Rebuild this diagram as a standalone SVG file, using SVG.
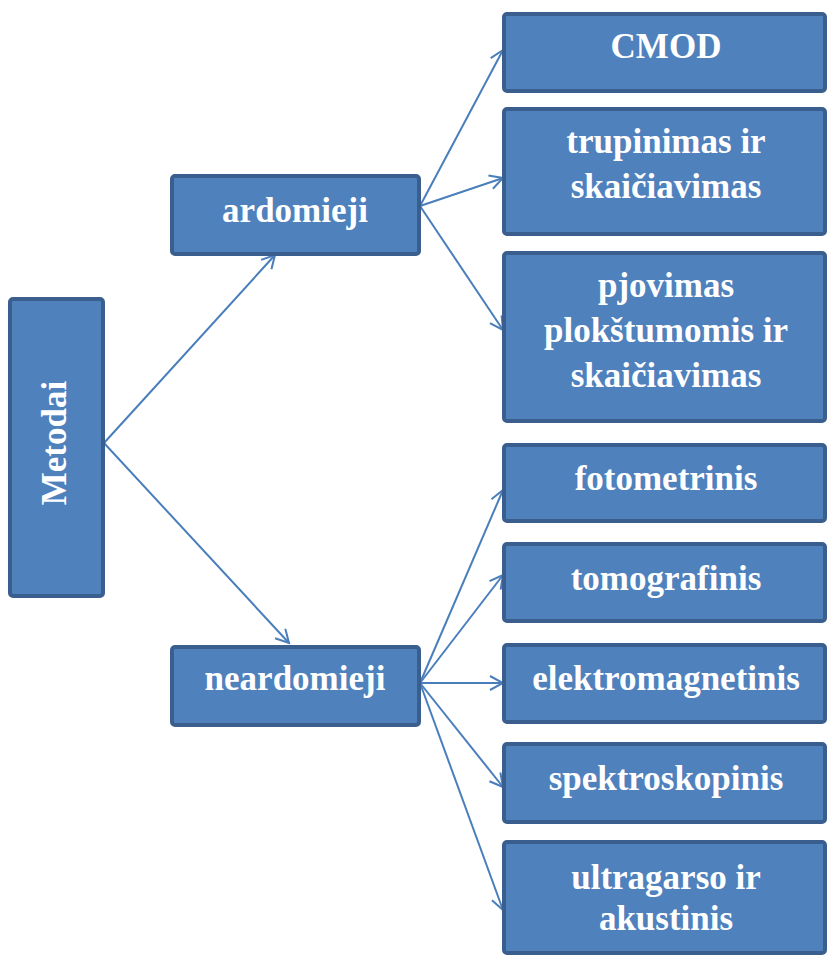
<svg xmlns="http://www.w3.org/2000/svg" width="828" height="956" viewBox="0 0 828 956">
<style>
.box{fill:#4F81BD;stroke:#3A5F8E;stroke-width:4}
.t{font-family:"Liberation Serif","Times New Roman",serif;font-weight:bold;font-size:35px;fill:#FFFFFF;text-anchor:middle}
.c{stroke:#4A7EBB;stroke-width:2;fill:none;marker-end:url(#arr)}
</style>
<defs>
<marker id="arr" markerUnits="userSpaceOnUse" markerWidth="16" markerHeight="18" refX="14" refY="8" orient="auto">
<path d="M1,1 L14,8 L1,15" fill="none" stroke="#4A7EBB" stroke-width="2"/>
</marker>
</defs>
<rect width="828" height="956" fill="#FFFFFF"/>
<g id="connectors">
<line class="c" x1="104" y1="443" x2="275" y2="255"/>
<line class="c" x1="104" y1="443" x2="289" y2="643"/>
<line class="c" x1="420" y1="206" x2="503" y2="50"/>
<line class="c" x1="420" y1="206" x2="503" y2="178"/>
<line class="c" x1="420" y1="206" x2="503" y2="330"/>
<line class="c" x1="420" y1="683" x2="503" y2="490"/>
<line class="c" x1="420" y1="683" x2="503" y2="575"/>
<line class="c" x1="420" y1="683" x2="503" y2="683"/>
<line class="c" x1="420" y1="683" x2="503" y2="787"/>
<line class="c" x1="420" y1="683" x2="503" y2="910"/>
</g>
<g id="metodai">
<rect class="box" x="10" y="299" width="93" height="297" rx="3"/>
<text class="t" transform="translate(66,443) rotate(-90)">Metodai</text>
</g>
<g id="ardomieji">
<rect class="box" x="172" y="176" width="247" height="78" rx="3"/>
<text class="t" x="295" y="222">ardomieji</text>
</g>
<g id="neardomieji">
<rect class="box" x="172" y="647" width="247" height="78" rx="3"/>
<text class="t" x="295" y="690">neardomieji</text>
</g>
<g id="cmod">
<rect class="box" x="504" y="14" width="321" height="77" rx="3"/>
<text class="t" x="666" y="58">CMOD</text>
</g>
<g id="trupinimas">
<rect class="box" x="504" y="109" width="321" height="125" rx="3"/>
<text class="t" x="666" y="153">trupinimas ir</text>
<text class="t" x="666" y="198">skaičiavimas</text>
</g>
<g id="pjovimas">
<rect class="box" x="504" y="253" width="321" height="168" rx="3"/>
<text class="t" x="666" y="297">pjovimas</text>
<text class="t" x="666" y="342">plokštumomis ir</text>
<text class="t" x="666" y="387">skaičiavimas</text>
</g>
<g id="fotometrinis">
<rect class="box" x="504" y="445" width="321" height="76" rx="3"/>
<text class="t" x="666" y="490">fotometrinis</text>
</g>
<g id="tomografinis">
<rect class="box" x="504" y="544" width="321" height="77" rx="3"/>
<text class="t" x="666" y="590">tomografinis</text>
</g>
<g id="elektromagnetinis">
<rect class="box" x="504" y="645" width="321" height="77" rx="3"/>
<text class="t" x="666" y="690">elektromagnetinis</text>
</g>
<g id="spektroskopinis">
<rect class="box" x="504" y="744" width="321" height="78" rx="3"/>
<text class="t" x="666" y="790">spektroskopinis</text>
</g>
<g id="ultragarso">
<rect class="box" x="504" y="842" width="321" height="111" rx="3"/>
<text class="t" x="666" y="889">ultragarso ir</text>
<text class="t" x="666" y="930">akustinis</text>
</g>
</svg>
